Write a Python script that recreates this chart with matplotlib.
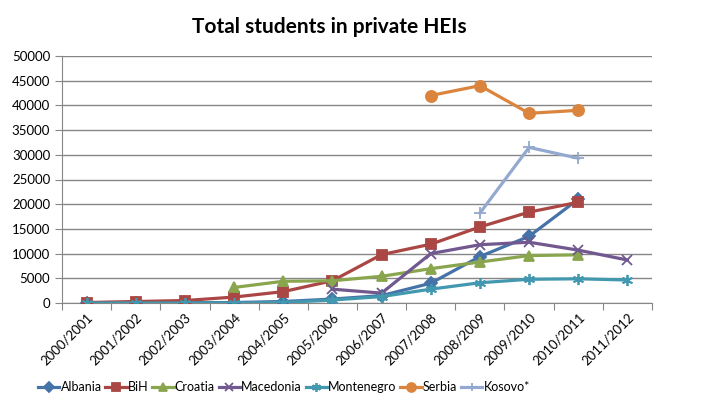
import numpy as np
import matplotlib.pyplot as plt
from matplotlib.transforms import ScaledTranslation

years = ["2000/2001", "2001/2002", "2002/2003", "2003/2004", "2004/2005", "2005/2006",
         "2006/2007", "2007/2008", "2008/2009", "2009/2010", "2010/2011", "2011/2012"]
nan = np.nan

albania = [0, 0, 50, 100, 300, 800, 1500, 4000, 9400, 13500, 21000, nan]
bih = [100, 300, 500, 1200, 2300, 4500, 9800, 11900, 15400, 18400, 20400, nan]
croatia = [nan, nan, nan, 3150, 4400, 4500, 5400, 6950, 8300, 9600, 9750, nan]
macedonia = [nan, nan, nan, nan, nan, 2800, 2000, 10000, 11800, 12300, 10700, 8700]
montenegro = [0, 0, 0, 0, 100, 600, 1300, 2800, 4100, 4800, 4900, 4650]
serbia = [nan, nan, nan, nan, nan, nan, nan, 42000, 44000, 38400, 39000, nan]
kosovo = [nan, nan, nan, nan, nan, nan, nan, nan, 18200, 31500, 29300, nan]

series = [
    ("Albania", albania, "#4572A7", "D", 6),
    ("BiH", bih, "#AA4643", "s", 7),
    ("Croatia", croatia, "#89A54E", "^", 7),
    ("Macedonia", macedonia, "#71588F", "x", 7),
    ("Montenegro", montenegro, "#4198AF", (6, 2, 0), 8),
    ("Serbia", serbia, "#DB843D", "o", 8),
    ("Kosovo*", kosovo, "#93A9CF", "+", 8),
]

plt.rcParams["font.family"] = ["Lato", "DejaVu Sans"]

fig = plt.figure(figsize=(7.01, 4.17), dpi=100)
ax = fig.add_axes([62 / 701, 1 - 303 / 417, 590 / 701, 247 / 417])

x = np.arange(len(years))
for name, vals, color, marker, ms in series:
    ax.plot(x, vals, color=color, lw=2.3, marker=marker, ms=ms,
            mew=1.3, mec=color, mfc=color, label=name, zorder=3)

ax.set_xlim(-0.5, len(years) - 0.5)
ax.set_ylim(0, 50000)
ax.set_yticks(np.arange(0, 50001, 5000))
ax.yaxis.grid(True, color="#868686", lw=1)
ax.set_axisbelow(True)

# tick marks between categories, labels at category centres
ax.set_xticks(np.arange(-0.5, len(years), 1))
ax.set_xticklabels([])
ax.set_xticks(x, minor=True)
labels = ax.set_xticklabels(years, minor=True, rotation=45, ha="right", va="top",
                            rotation_mode="anchor", fontsize=9.5)
shift = ScaledTranslation(-14 / 100, -6 / 100, fig.dpi_scale_trans)
for lab in labels:
    lab.set_transform(lab.get_transform() + shift)
ax.tick_params(axis="x", which="minor", length=0, pad=6)
ax.tick_params(axis="x", which="major", length=5, color="#868686")
ax.tick_params(axis="y", length=5, color="#868686", labelsize=9.5)

for s in ["top", "right"]:
    ax.spines[s].set_visible(False)
for s in ["left", "bottom"]:
    ax.spines[s].set_color("#868686")

fig.text(0.47, 0.935, "Total students in private HEIs", ha="center", va="center",
         fontsize=15, fontweight="bold")

fig.legend(loc="center", bbox_to_anchor=(0.405, 0.072), ncol=7, frameon=False,
           fontsize=9, handlelength=1.7, handletextpad=0.1, columnspacing=0.3,
           borderpad=0, markerscale=0.8)

fig.savefig("out.png", dpi=100)
